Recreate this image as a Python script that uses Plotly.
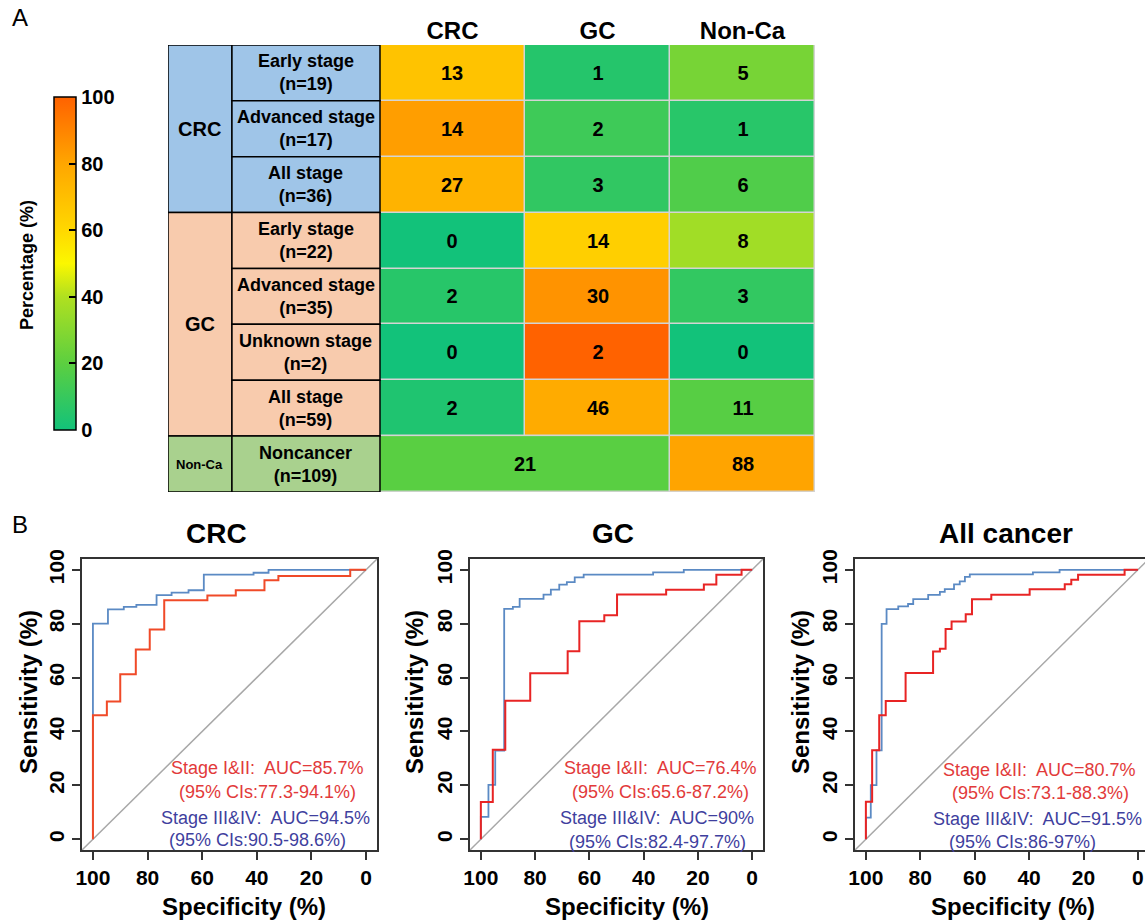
import plotly.graph_objects as go

W, H = 1145, 924
FONT = "Liberation Sans, Arial, sans-serif"

# ---------------- Panel A data ----------------
col_labels = ["CRC", "GC", "Non-Ca"]
group_labels = ["CRC", "GC", "Non-Ca"]
group_sizes = [3, 4, 1]
row_labels = ["Early stage", "Advanced stage", "All stage",
              "Early stage", "Advanced stage", "Unknown stage", "All stage",
              "Noncancer"]
row_n = [19, 17, 36, 22, 35, 2, 59, 109]
counts_crc = [13, 14, 27, 0, 2, 0, 2]
counts_gc = [1, 2, 3, 14, 30, 2, 46]
counts_nonca = [5, 1, 6, 8, 3, 0, 11]
noncancer_counts = [21, 88]          # predicted cancer (CRC+GC merged), predicted Non-Ca
cbar_ticks = [0, 20, 40, 60, 80, 100]

# ---------------- Panel B data (specificity %, sensitivity %) ----------------
crc_early_spec = [100, 100, 94.9, 90, 84.3, 79.2, 73.9, 58.1, 47.7, 37.2, 32.1, 5.8, 0]
crc_early_sens = [0, 46, 51.1, 61.2, 70.4, 77.8, 88.7, 90.5, 92.4, 96.1, 97.7, 100, 100]
crc_adv_spec = [100, 100, 94.5, 88.7, 84.1, 76.7, 71.2, 65, 59.4, 41.2, 35.7, 0]
crc_adv_sens = [0, 80, 85.3, 86.2, 87, 90.6, 91.5, 92.4, 98.2, 98.9, 100, 100]

gc_early_spec = [100, 100, 95.6, 91, 81.8, 68, 63.7, 54.5, 49.8, 31.7, 17.8, 13.2, 3.9, 0]
gc_early_sens = [0, 13.8, 33.2, 51.4, 61.6, 69.8, 80.9, 83.1, 90.8, 92.6, 94.5, 98.2, 100, 100]
gc_adv_spec = [100, 100, 97.2, 94.7, 91.4, 88.2, 85.7, 76.9, 74.2, 71.1, 68.3, 65.4, 62.1, 36.5, 25.2, 0]
gc_adv_sens = [0, 8.3, 20.2, 32.9, 85.5, 86.2, 89.2, 90.8, 92.6, 94.5, 95.4, 97.2, 98.2, 99, 100, 100]

all_early_spec = [100, 100, 97.7, 95.1, 92.7, 85.4, 75.3, 72.8, 70.7, 68.5, 63.3, 61, 53.9, 39.8, 26.9, 24.5, 22, 4.9, 0]
all_early_sens = [0, 13.9, 33, 46, 51.3, 61.7, 69.7, 70.7, 78, 80.8, 83.5, 89.1, 90.7, 92.8, 94.6, 96.3, 98.2, 100, 100]
all_adv_spec = [100, 100, 98.2, 96.1, 94.2, 92.4, 88.1, 84.5, 82.6, 77.1, 72.8, 71, 67.6, 65.5, 63.6, 61.8, 38.6, 28.8, 0]
all_adv_sens = [0, 8, 20.1, 33, 79.9, 85.4, 86.4, 87.3, 89.1, 90.7, 91.8, 92.8, 94.6, 95.7, 97.4, 98.3, 99, 100, 100]

roc_titles = ["CRC", "GC", "All cancer"]
auc_early = ["85.7%", "76.4%", "80.7%"]
ci_early = ["77.3-94.1%", "65.6-87.2%", "73.1-88.3%"]
auc_adv = ["94.5%", "90%", "91.5%"]
ci_adv = ["90.5-98.6%", "82.4-97.7%", "86-97%"]
roc_ticks = [0, 20, 40, 60, 80, 100]


def fx(px):
    return px / W


def fy(py):
    return 1 - py / H


RED_LINES = ["#f04a28", "#e82424", "#e82424"]
BLUE = "#5b8ac4"
RED_TXT = "#e23a3a"
BLUE_TXT = "#3f3f9e"

colorscale = [[0.0, "#12c27a"], [0.2, "#5ccf40"], [0.4, "#b0e020"], [0.5, "#fbf700"],
              [0.6, "#ffd800"], [0.8, "#ffa600"], [1.0, "#ff6200"]]

fig = go.Figure()

# ---------- heatmap (rows 0-6) ----------
z_main, t_main = [], []
for i in range(7):
    n = row_n[i]
    vals = [counts_crc[i], counts_gc[i], counts_nonca[i]]
    z_main.append([v / n * 100 for v in vals])
    t_main.append([str(v) for v in vals])

fig.add_trace(go.Heatmap(
    z=z_main, text=t_main, texttemplate="%{text}",
    x=[0.5, 1.5, 2.5], y=[r + 0.5 for r in range(7)],
    zmin=0, zmax=100, colorscale=colorscale, xgap=1.5, ygap=1.5,
    textfont=dict(family=FONT, size=20, color="black", weight="bold"),
    hoverinfo="skip", xaxis="x", yaxis="y",
    colorbar=dict(x=fx(54), xanchor="left", y=fy(263.5), yanchor="middle",
                  len=333 / H, lenmode="fraction", thickness=22,
                  xpad=0, ypad=0, outlinecolor="black", outlinewidth=1.5,
                  tickvals=cbar_ticks, ticks="inside", ticklen=7, tickwidth=2,
                  tickcolor="black",
                  tickfont=dict(family=FONT, size=20, color="black", weight="bold")),
))
# ---------- noncancer row (merged cancer cell) ----------
n_nc = row_n[7]
fig.add_trace(go.Heatmap(
    z=[[v / n_nc * 100 for v in noncancer_counts]],
    text=[[str(v) for v in noncancer_counts]], texttemplate="%{text}",
    x=[0, 2, 3], y=[7, 8],
    zmin=0, zmax=100, colorscale=colorscale, showscale=False, xgap=1.5, ygap=1.5,
    textfont=dict(family=FONT, size=20, color="black", weight="bold"),
    hoverinfo="skip", xaxis="x", yaxis="y",
))

shapes = []
annotations = []


def ann(x, y, text, size, color="black", xref="paper", yref="paper", angle=0):
    annotations.append(dict(x=x, y=y, xref=xref, yref=yref, text=text,
                            showarrow=False, xanchor="center", yanchor="middle",
                            textangle=angle,
                            font=dict(family=FONT, size=size, color=color)))


# grey grid behind heat cells
shapes.append(dict(type="rect", xref="x", yref="y", x0=0, x1=3, y0=0, y1=8,
                   fillcolor="#d4d4d4", line=dict(width=0), layer="below"))

# left label table
GX0, GX1 = -1.462, -1.021
group_colors = ["#9fc5e8", "#f8cbad", "#a9d18e"]
r0 = 0
for g, (lab, sz, colr) in enumerate(zip(group_labels, group_sizes, group_colors)):
    shapes.append(dict(type="rect", xref="x", yref="y", x0=GX0, x1=GX1, y0=r0, y1=r0 + sz,
                       fillcolor=colr, line=dict(color="black", width=1.5)))
    fs = 13 if lab == "Non-Ca" else 20
    ann((GX0 + GX1) / 2, r0 + sz / 2, f"<b>{lab}</b>", fs, xref="x", yref="y")
    for k in range(sz):
        r = r0 + k
        shapes.append(dict(type="rect", xref="x", yref="y", x0=GX1, x1=0, y0=r, y1=r + 1,
                           fillcolor=colr, line=dict(color="black", width=1.5)))
        ann(GX1 / 2, r + 0.5, f"<b>{row_labels[r]}<br>(n={row_n[r]})</b>", 18,
            xref="x", yref="y")
    r0 += sz

# colorbar title
ann(fx(27), fy(265), "<b>Percentage (%)</b>", 18, angle=-90)
# panel letters
ann(fx(20), fy(18), "A", 24)
ann(fx(20), fy(524), "B", 24)

# ---------- ROC panels ----------
roc_data = [(crc_early_spec, crc_early_sens, crc_adv_spec, crc_adv_sens),
            (gc_early_spec, gc_early_sens, gc_adv_spec, gc_adv_sens),
            (all_early_spec, all_early_sens, all_adv_spec, all_adv_sens)]
x_domains = [(82, 377), (470, 763), (855, 1145)]
x_ranges = [[104, -4], [104, -4], [104, -2.6]]
title_x = [216, 613, 1006]
spec_title_x = [244, 627, 1013]
sens_title_x = [28, 414, 800]
leg_pos = [
    [(267, 768), (267, 792), (265, 818), (257, 840)],
    [(660, 768), (660, 792), (657, 818), (657, 842)],
    [(1039, 770), (1040, 793), (1037, 819), (1022, 842)],
]

layout_axes = {}
for p in range(3):
    ax = p + 2
    xa, ya = f"x{ax}", f"y{ax}"
    es, en, as_, an = roc_data[p]
    # diagonal reference
    fig.add_trace(go.Scatter(x=[104, -4], y=[-4, 104], mode="lines",
                             line=dict(color="#a8a8a8", width=1.5),
                             hoverinfo="skip", showlegend=False, xaxis=xa, yaxis=ya))
    fig.add_trace(go.Scatter(x=as_, y=an, mode="lines", line_shape="hv",
                             line=dict(color=BLUE, width=1.8),
                             hoverinfo="skip", showlegend=False, xaxis=xa, yaxis=ya))
    fig.add_trace(go.Scatter(x=es, y=en, mode="lines", line_shape="hv",
                             line=dict(color=RED_LINES[p], width=2),
                             hoverinfo="skip", showlegend=False, xaxis=xa, yaxis=ya))
    axis_common = dict(showgrid=False, zeroline=False, showline=True, mirror=True,
                       linecolor="#333333", linewidth=1.5, ticks="outside", ticklen=8,
                       tickwidth=1.5, tickcolor="#333333", tickvals=roc_ticks,
                       automargin=False,
                       tickfont=dict(family=FONT, size=21, color="black", weight="bold"))
    layout_axes[f"xaxis{ax}"] = dict(domain=[fx(x_domains[p][0]), min(1.0, fx(x_domains[p][1]))],
                                     range=x_ranges[p], anchor=ya, **axis_common)
    layout_axes[f"yaxis{ax}"] = dict(domain=[fy(850), fy(559)], range=[-4, 104],
                                     anchor=xa, tickangle=-90, **axis_common)
    ann(fx(title_x[p]), fy(533), f"<b>{roc_titles[p]}</b>", 28)
    ann(fx(spec_title_x[p]), fy(906), "<b>Specificity (%)</b>", 24)
    ann(fx(sens_title_x[p]), fy(692), "<b>Sensitivity (%)</b>", 24, angle=-90)
    lines = [(f"Stage I&amp;II:&nbsp; AUC={auc_early[p]}", RED_TXT),
             (f"(95% CIs:{ci_early[p]})", RED_TXT),
             (f"Stage III&amp;IV:&nbsp; AUC={auc_adv[p]}", BLUE_TXT),
             (f"(95% CIs:{ci_adv[p]})", BLUE_TXT)]
    for (txt, c), (lx, ly) in zip(lines, leg_pos[p]):
        ann(fx(lx), fy(ly), txt, 18, color=c)

fig.update_layout(
    width=W, height=H, margin=dict(l=0, r=0, t=0, b=0, pad=0, autoexpand=False),
    paper_bgcolor="white", plot_bgcolor="white", showlegend=False,
    xaxis=dict(domain=[fx(168), fx(815)], range=[-1.462, 3], side="top",
               tickvals=[0.5, 1.5, 2.5], ticktext=col_labels, ticks="",
               showgrid=False, zeroline=False, showline=False, anchor="y",
               automargin=False,
               tickfont=dict(family=FONT, size=24, color="black", weight="bold")),
    yaxis=dict(domain=[fy(492), fy(45)], range=[8, 0], showticklabels=False,
               ticks="", showgrid=False, zeroline=False, showline=False, anchor="x",
               automargin=False),
    shapes=shapes, annotations=annotations,
    **layout_axes,
)

fig.write_html("out.html", config={"displayModeBar": False},
               post_script="document.body.style.margin='0';document.body.style.overflow='hidden';")
